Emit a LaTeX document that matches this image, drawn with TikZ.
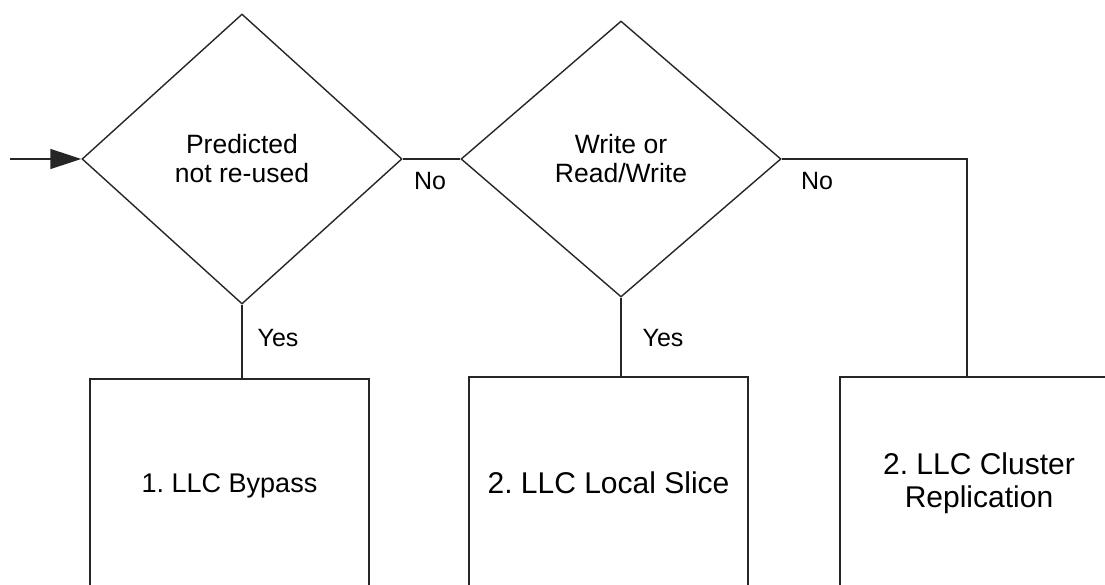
\documentclass[tikz,border=0pt]{standalone}
\usepackage{fontspec}
\setmainfont{Liberation Sans}
\usetikzlibrary{shapes.geometric,arrows.meta}
\frenchspacing
\begin{document}
\begin{tikzpicture}[x=1pt,y=-1pt,
  line/.style={line width=1.4pt,draw=black!85},
  decision/.style={diamond,line,inner sep=0pt,align=center,
    font=\fontsize{26.5}{29}\selectfont},
  outbox/.style={rectangle,line,inner sep=0pt,align=center,minimum height=212pt},
  lbl/.style={font=\fontsize{25}{29}\selectfont,inner sep=0pt}]
\useasboundingbox (0,0) rectangle (1105,585);
\clip (0,0) rectangle (1105,585);
\node[decision,minimum width=320pt,minimum height=290pt] (d1) at (242,159) {Predicted\\not re-used};
\node[decision,minimum width=320pt,minimum height=276pt] (d2) at (621,159) {Write or\\Read/Write};
\node[outbox,minimum width=279pt,minimum height=214pt,font=\fontsize{27}{30}\selectfont] (b1) at (229.5,486) {1. LLC Bypass};
\node[outbox,minimum width=279pt,font=\fontsize{30}{33}\selectfont] (b2) at (608.5,483) {2. LLC Local Slice};
\node[outbox,minimum width=278pt,font=\fontsize{30}{33}\selectfont] (b3) at (979,483) {2. LLC Cluster\\Replication};
\coordinate (start) at (10,159);
\draw[line,-{Triangle[length=31pt,width=20pt]}] (start) -- (d1.west);
\draw[line] (d1.east) -- (d2.west);
\draw[line] (d2.east) -| ([xshift=-12pt]b3.north);
\draw[line] (d1.south) -- (d1.south |- b1.north);
\draw[line] (d2.south) -- (d2.south |- b2.north);
\node[lbl] (no1) at (430,181) {No};
\node[lbl] (no2) at (817,181) {No};
\node[lbl] (yes1) at (278,338) {Yes};
\node[lbl] (yes2) at (663,338) {Yes};
\end{tikzpicture}
\end{document}
